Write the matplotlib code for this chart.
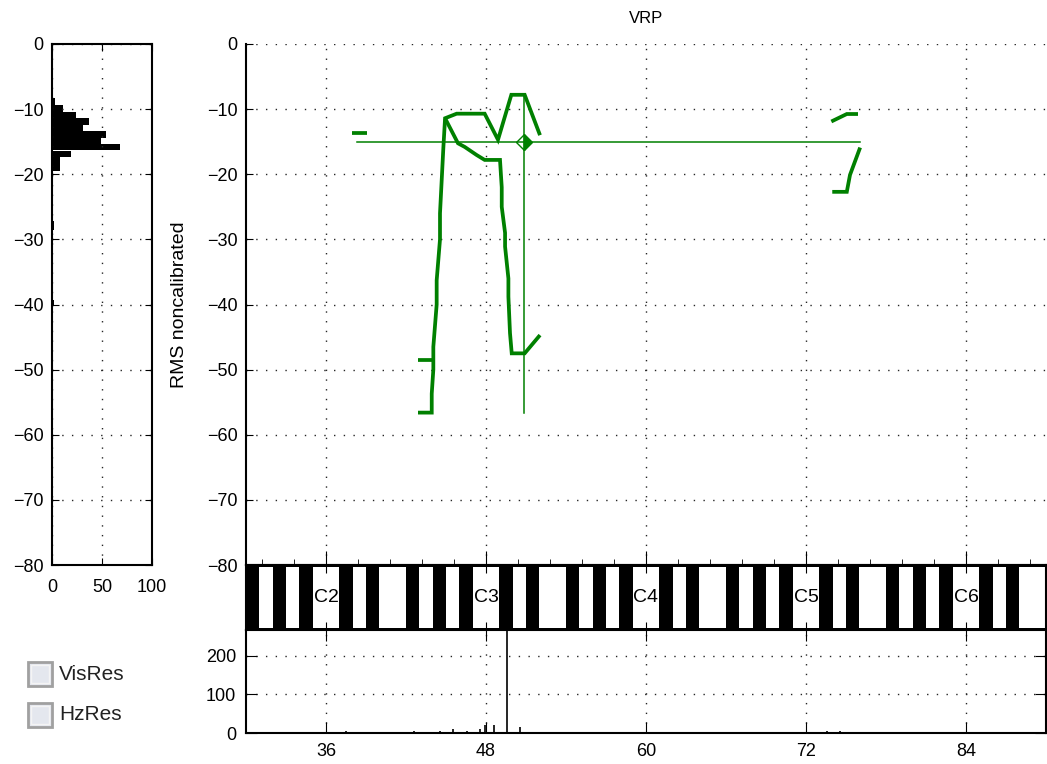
import numpy as np
import matplotlib
matplotlib.use("Agg")
import matplotlib.pyplot as plt
from matplotlib.patches import Rectangle

plt.rcParams['font.family'] = ['Liberation Sans', 'DejaVu Sans']

# ---------------- data ----------------
# VRP contours (semitone, dB)
upper_x = [42.9, 43.93, 43.93, 44.05, 44.05, 44.3, 44.3, 44.55, 44.55, 44.8, 44.93, 45.8, 47.9, 48.9, 49.9, 50.9, 52.05]
upper_y = [-56.6, -56.6, -53.7, -50.0, -46.5, -40.0, -36.3, -30.0, -26.0, -16.0, -11.4, -10.7, -10.7, -14.7, -7.8, -7.8, -14.0]
lower_x = [44.93, 45.9, 46.4, 47.3, 47.9, 49.05, 49.18, 49.18, 49.43, 49.43, 49.68, 49.68, 49.8, 49.93, 50.9, 52.05]
lower_y = [-11.4, -15.25, -15.8, -17.05, -17.8, -17.8, -22.0, -25.0, -29.0, -31.1, -36.0, -38.8, -44.4, -47.5, -47.5, -44.7]
soft_x = [42.9, 44.0]
soft_y = [-48.5, -48.5]
dash_x = [37.93, 39.05]
dash_y = [-13.7, -13.7]
right_up_x = [73.9, 75.06, 75.9]
right_up_y = [-11.9, -10.75, -10.75]
right_lo_x = [73.97, 75.06, 75.3, 76.06]
right_lo_y = [-22.7, -22.7, -20.1, -15.9]

# crosshair
cross_x = 50.88
cross_y = -15.0
cross_xrange = [38.3, 76.06]
cross_yrange = [-56.7, -7.8]

# level histogram (dB bin centre, count)
hist_db = [-8.8, -9.9, -10.9, -11.9, -12.9, -13.9, -14.85, -15.85, -16.85, -17.85, -18.95, -27.9, -39.8]
hist_cnt = [3, 11, 24, 37, 31, 54, 49, 68, 19, 8, 8, 2, 2]
hist_h = [1.1, 1.0, 1.0, 1.0, 1.0, 1.0, 0.95, 1.0, 0.95, 1.05, 1.15, 1.3, 1.0]

# pitch histogram (semitone, count)
pitch_x = [37.5, 42.6, 44.55, 45.55, 46.55, 47.55, 47.95, 48.6, 49.55, 50.55, 73.56, 74.56]
pitch_cnt = [5, 4, 4, 11, 5, 11, 20, 20, 300, 15, 4, 4]

# axis ticks
x_ticks = [36, 48, 60, 72, 84]
y_ticks = [0, -10, -20, -30, -40, -50, -60, -70, -80]
hist_xticks = [0, 50, 100]
pitch_yticks = [0, 100, 200]
octave_names = ['C2', 'C3', 'C4', 'C5', 'C6']
octave_pos = [36, 48, 60, 72, 84]
checkbox_labels = ['VisRes', 'HzRes']

GREEN = '#008000'
W, H = 1047, 764
fig = plt.figure(figsize=(W / 100, H / 100), dpi=100)

def ax_at(l, t, r, b):
    return fig.add_axes([l / W, 1 - b / H, (r - l) / W, (b - t) / H])

grid_kw = dict(color='0.15', linestyle=(0, (1, 6)), linewidth=1.0)
TFS = 13

# ---------------- histogram axes ----------------
axh = ax_at(52, 44, 152, 565)
axh.barh(hist_db, hist_cnt, height=hist_h, color='black', align='center')
axh.set_xlim(0, 100)
axh.set_ylim(-80, 0)
axh.set_xticks(hist_xticks)
axh.set_yticks(y_ticks)
axh.tick_params(axis='y', direction='in', length=5, labelsize=TFS, pad=6, right=True)
axh.tick_params(axis='x', direction='in', length=5, labelsize=TFS, pad=10, top=True)
axh.xaxis.grid(True, **grid_kw)
axh.yaxis.grid(True, **grid_kw)
for s in axh.spines.values():
    s.set_linewidth(1.5)

# ---------------- main VRP axes ----------------
ax = ax_at(246, 44, 1046, 565)
ax.set_xlim(30, 90)
ax.set_ylim(-80, 0)
ax.set_yticks(y_ticks)
ax.set_xticks(x_ticks)
ax.set_xticks(np.arange(31.2, 90, 2.4), minor=True)
ax.tick_params(axis='x', which='major', direction='in', length=10, labelbottom=False)
ax.tick_params(axis='x', which='minor', direction='in', length=4)
ax.tick_params(axis='y', direction='in', length=5, labelsize=TFS, pad=6)
ax.grid(True, **grid_kw)
ax.spines['top'].set_visible(False)
ax.spines['right'].set_visible(False)
ax.spines['left'].set_linewidth(1.5)
ax.spines['bottom'].set_linewidth(1.5)
lw = 2.7
for xs, ys in [(upper_x, upper_y), (lower_x, lower_y), (soft_x, soft_y), (dash_x, dash_y),
               (right_up_x, right_up_y), (right_lo_x, right_lo_y)]:
    ax.plot(xs, ys, color=GREEN, linewidth=lw, solid_joinstyle='miter', solid_capstyle='butt')
ax.plot(cross_xrange, [cross_y, cross_y], color=GREEN, linewidth=1.1)
ax.plot([cross_x, cross_x], cross_yrange, color=GREEN, linewidth=1.1)
ax.plot([cross_x], [cross_y], marker='D', markersize=8, color=GREEN, fillstyle='right',
        markeredgewidth=1.0)
ax.set_title('VRP', fontsize=12, pad=15)
ax.set_ylabel('RMS noncalibrated', fontsize=14)
ax.yaxis.set_label_coords(-0.072, 0.5)

# ---------------- keyboard axes ----------------
axk = ax_at(246, 565, 1046, 630)
axk.set_facecolor('black')
axk.set_xlim(30, 90)
axk.set_ylim(0, 1)
white_pcs = {0, 2, 4, 5, 7, 9, 11}
for n in range(30, 90):
    if n % 12 in white_pcs:
        axk.add_patch(Rectangle((n, 0.035), 1, 0.93, facecolor='white', edgecolor='none'))
for name, p in zip(octave_names, octave_pos):
    axk.text(p, 0.5, name, ha='center', va='center', fontsize=14, color='black')
axk.set_xticks(x_ticks)
axk.set_yticks([])
axk.tick_params(axis='x', direction='in', length=6, top=True, bottom=True, labelbottom=False)
for s in axk.spines.values():
    s.set_linewidth(1.5)

# ---------------- pitch count axes ----------------
axp = ax_at(246, 630, 1046, 733)
axp.vlines(pitch_x, 0, pitch_cnt, color='black', linewidth=1.2)
axp.set_xlim(30, 90)
axp.set_ylim(0, 266)
axp.set_xticks(x_ticks)
axp.set_yticks(pitch_yticks)
axp.tick_params(direction='in', length=8, labelsize=TFS, pad=7, top=True, right=True)
axp.grid(True, **grid_kw)
for s in axp.spines.values():
    s.set_linewidth(1.5)

# ---------------- checkboxes ----------------
for label, cy in zip(checkbox_labels, [674, 715]):
    fig.patches.append(Rectangle((28 / W, 1 - (cy + 12) / H), 24 / W, 24 / H,
                                 transform=fig.transFigure, facecolor='#e4e7ee',
                                 edgecolor='#a0a0a0', linewidth=2.0))
    fig.patches.append(Rectangle((31 / W, 1 - (cy + 9) / H), 18 / W, 18 / H,
                                 transform=fig.transFigure, facecolor='none',
                                 edgecolor='#f4f4f4', linewidth=1.0))
    fig.text(59 / W, 1 - cy / H, label, fontsize=15, va='center', ha='left', color='#222222')

fig.savefig('out.png', dpi=100)
